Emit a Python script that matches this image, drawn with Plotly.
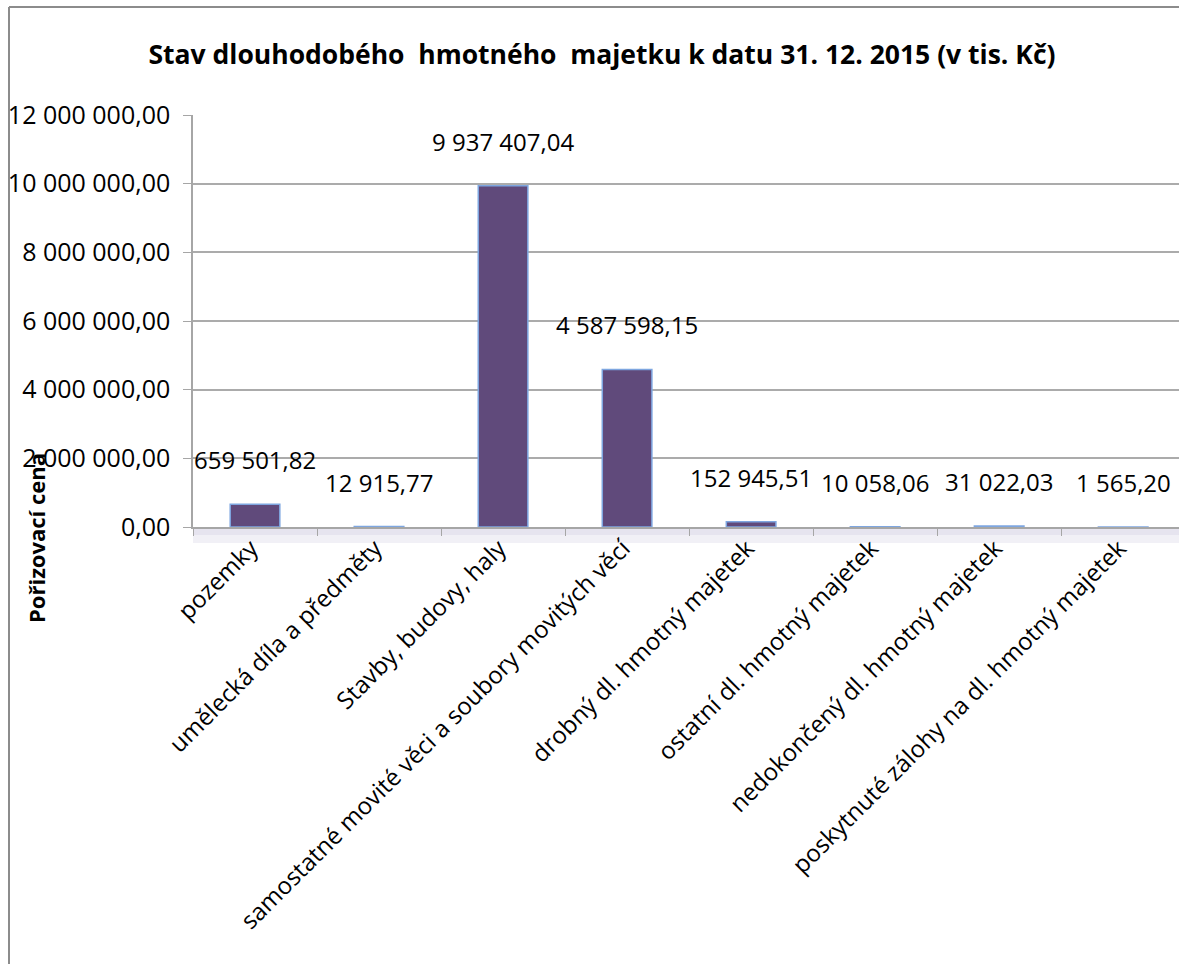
import plotly.graph_objects as go

categories = [
    "pozemky",
    "umělecká díla a předměty",
    "Stavby, budovy, haly",
    "samostatné movité věci a soubory movitých věcí",
    "drobný dl. hmotný majetek",
    "ostatní dl. hmotný majetek",
    "nedokončený dl. hmotný majetek",
    "poskytnuté zálohy na dl. hmotný majetek",
]
values = [659501.82, 12915.77, 9937407.04, 4587598.15, 152945.51, 10058.06, 31022.03, 1565.20]
y_ticks = [0, 2000000, 4000000, 6000000, 8000000, 10000000, 12000000]

title_text = "Stav dlouhodobého  hmotného  majetku k datu 31. 12. 2015 (v tis. Kč)"
y_title = "Pořizovací cena"


def cz(v):
    return f"{v:,.2f}".replace(",", " ").replace(".", ",")


FONT = "Open Sans"
W, H = 1179, 964
L, T, B, R = 193, 115, 437, 0
pw, ph = W - L - R, H - T - B

fig = go.Figure()
fig.add_trace(go.Bar(
    x=categories, y=values, width=0.4,
    marker=dict(color="#604A7B", line=dict(color="#7EA6E0", width=1.5)),
    hoverinfo="skip",
))

annotations = []
for c, v in zip(categories, values):
    annotations.append(dict(
        x=c, y=v, xref="x", yref="y", text=cz(v), showarrow=False,
        yanchor="bottom", yshift=26,
        font=dict(family=FONT, size=24, color="#000000"),
    ))

# y axis title (overlapping tick labels as in the reference)
annotations.append(dict(
    x=(36 - L) / pw, y=(H - B - 538) / ph, xref="paper", yref="paper",
    text=f"<b>{y_title}</b>", textangle=-90, showarrow=False,
    xanchor="center", yanchor="middle",
    font=dict(family=FONT, size=22, color="#000000"),
))

shapes = [
    # shadow under plot area
    dict(type="rect", xref="paper", yref="paper",
         x0=0, x1=1.01, y0=-16 / ph, y1=0,
         fillcolor="rgba(210,205,225,0.3)", line=dict(width=0), layer="below"),
    dict(type="rect", xref="paper", yref="paper",
         x0=0, x1=1.01, y0=-8 / ph, y1=0,
         fillcolor="rgba(210,205,225,0.35)", line=dict(width=0), layer="below"),
    # outer chart frame (top & left)
    dict(type="line", xref="paper", yref="paper",
         x0=(9 - L) / pw, x1=1.02, y0=(H - B - 7) / ph, y1=(H - B - 7) / ph,
         line=dict(color="#8C8C8C", width=2)),
    dict(type="line", xref="paper", yref="paper",
         x0=(9 - L) / pw, x1=(9 - L) / pw, y0=(H - B - 7) / ph, y1=-B / ph - 0.02,
         line=dict(color="#8C8C8C", width=2)),
]

fig.update_layout(
    width=W, height=H,
    margin=dict(l=L, r=R, t=T, b=B, pad=0),
    paper_bgcolor="white", plot_bgcolor="white",
    separators=", ",
    showlegend=False,
    title=dict(text=f"<b>{title_text}</b>", x=602 / W, xanchor="center",
               y=1 - 55 / H, yanchor="middle", xref="container", yref="container",
               font=dict(family=FONT, size=26.5, color="#000000")),
    font=dict(family=FONT, color="#000000"),
    annotations=annotations,
    shapes=shapes,
    bargap=0.6,
)

fig.update_xaxes(
    range=[-0.5, 7.45],
    showline=True, linecolor="#A6A6A6", linewidth=1.5,
    ticks="outside", tickson="boundaries", ticklen=7, tickcolor="#A6A6A6",
    tickangle=-45, tickfont=dict(family=FONT, size=24, color="#000000"),
    ticklabelstandoff=-4, ticklabelshift=-4,
    showgrid=False,
)
fig.update_yaxes(
    range=[0, 12000000],
    tickvals=y_ticks, tickformat=",.2f",
    showline=True, linecolor="#A6A6A6", linewidth=1.5,
    ticks="outside", ticklen=8, tickcolor="#A6A6A6",
    tickfont=dict(family=FONT, size=25, color="#000000"),
    ticklabelstandoff=8,
    showgrid=True, gridcolor="#ABABAB", gridwidth=1.5,
    zeroline=False,
)

fig.write_html(
    "out.html",
    config={"displayModeBar": False},
    post_script="document.body.style.margin='0';document.body.style.overflow='hidden';",
)
